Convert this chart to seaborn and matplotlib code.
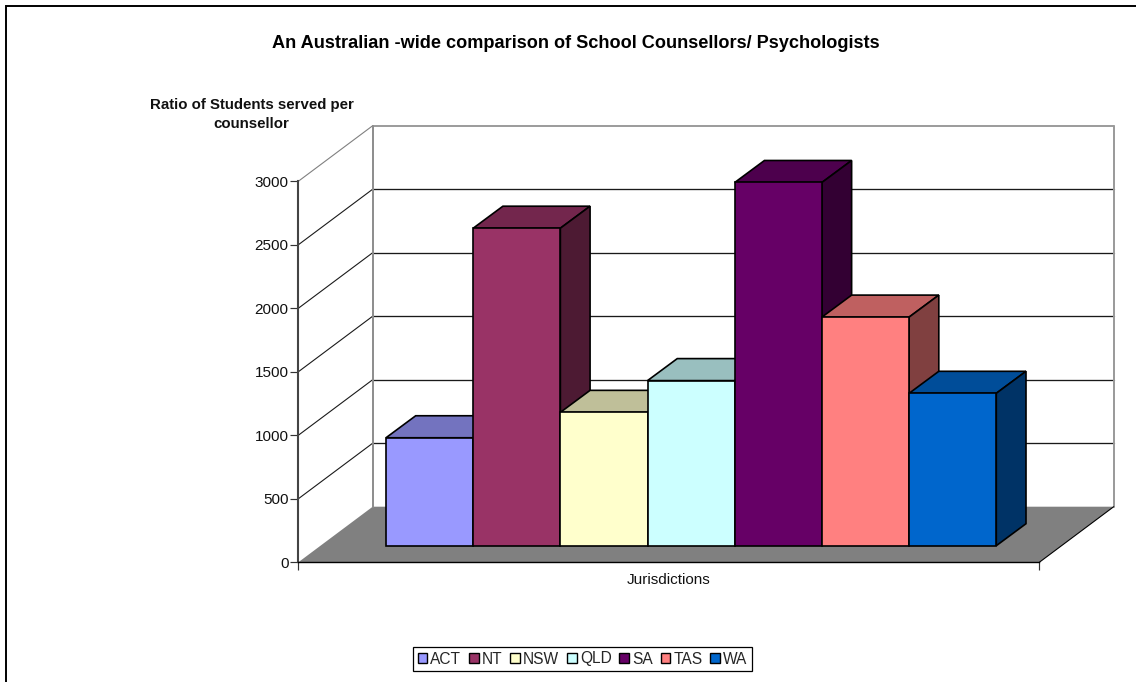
import numpy as np
import pandas as pd
import matplotlib
matplotlib.use("Agg")
import matplotlib.pyplot as plt
from matplotlib.patches import Polygon, Rectangle, Patch
import seaborn as sns

sns.set_theme(style="white")
plt.rcParams['font.family'] = ['Liberation Sans', 'DejaVu Sans']

states = ["ACT", "NT", "NSW", "QLD", "SA", "TAS", "WA"]
ratios = [850, 2500, 1050, 1300, 2860, 1800, 1200]
colours = ["#9999FF", "#993366", "#FFFFCC", "#CCFFFF", "#660066", "#FF8080", "#0066CC"]
y_ticks = [0, 500, 1000, 1500, 2000, 2500, 3000]

W, H = 1136, 682
fig = plt.figure(figsize=(W / 100, H / 100), dpi=100, facecolor="white")


def axes_px(left, right, top, bottom):
    return fig.add_axes([left / W, 1 - bottom / H, (right - left) / W, (bottom - top) / H])


# outer border runs off the right and bottom of the picture
fig.add_artist(Rectangle((6 / W, -0.02), 1.1, 1.02 - 6 / H, transform=fig.transFigure,
                         fill=False, edgecolor="black", linewidth=1.4))

# frame axes: the front edge of the 3d box, with the walls drawn back from it
frame = axes_px(298.3, 1039.3, 181.3, 562.3)
frame.patch.set_alpha(0)
frame.set_xlim(0, 1)
frame.set_ylim(0, 3000)
wall_dx = 74.4 / 741
wall_dy = 55.6 * 3000 / 381
grey = "#808080"

frame.add_patch(Polygon([(0, 0), (1, 0), (1 + wall_dx, wall_dy), (wall_dx, wall_dy)],
                        closed=True, facecolor=grey, edgecolor="none", clip_on=False, zorder=1))
for v in y_ticks[1:]:
    c = grey if v == 3000 else "#1a1a1a"
    frame.plot([0, wall_dx], [v, v + wall_dy], color=c, lw=0.8, clip_on=False, zorder=2)
    frame.plot([wall_dx, 1 + wall_dx], [v + wall_dy, v + wall_dy], color=c, lw=1.1 if v == 3000 else 0.95,
               clip_on=False, zorder=2)
frame.plot([wall_dx, wall_dx], [wall_dy, 3000 + wall_dy], color="#8c8c8c", lw=1.4, clip_on=False, zorder=2)
frame.plot([1 + wall_dx, 1 + wall_dx], [wall_dy, 3000 + wall_dy], color="#999999", lw=1.4, clip_on=False, zorder=2)
frame.plot([1, 1 + wall_dx], [0, wall_dy], color="black", lw=0.8, clip_on=False, zorder=3)

sns.despine(ax=frame, top=True, right=True)
frame.spines["left"].set_color("#444444")
frame.spines["left"].set_linewidth(1.5)
frame.spines["bottom"].set_color("black")
frame.spines["bottom"].set_linewidth(1.0)
frame.spines["bottom"].set_zorder(3)
frame.set_yticks(y_ticks)
frame.set_xticks([0, 1])
frame.set_xticklabels(["", ""])
frame.tick_params(axis="both", direction="out", length=5.5, width=0.85, color="#333333",
                  left=True, bottom=True, labelsize=11, labelcolor="#111111", pad=1.5)
frame.set_xlabel("Jurisdictions", fontsize=11, color="#111111", labelpad=1)

# bars sit part way along the floor in their own axes
bars = axes_px(386, 996.3, 164.7, 545.7)
bars.patch.set_alpha(0)
df = pd.DataFrame({"state": states, "ratio": ratios})
sns.barplot(data=df, x="state", y="ratio", hue="state", hue_order=states, palette=colours,
            dodge=False, width=1, saturation=1, edgecolor="black", linewidth=1.2, legend=False, ax=bars)
bars.set_xlim(-0.5, 6.5)
bars.set_ylim(0, 3000)
bars.set_axis_off()

depth_x = 29.7 / (610.3 / 7)
depth_y = 22 * 3000 / 381


def shade(colour, f):
    return tuple(np.array(matplotlib.colors.to_rgb(colour)) * f)


for i, (rect, col) in enumerate(zip(sorted(bars.patches, key=lambda p: p.get_x()), colours)):
    x0, w, h = rect.get_x(), rect.get_width(), rect.get_height()
    x1 = x0 + w
    rect.set_zorder(10 + 2 * i + 1)
    rect.set_clip_on(False)
    top = Polygon([(x0, h), (x1, h), (x1 + depth_x, h + depth_y), (x0 + depth_x, h + depth_y)], closed=True,
                  facecolor=shade(col, 0.75), edgecolor="black", linewidth=1.2, clip_on=False, zorder=10 + 2 * i)
    side = Polygon([(x1, 0), (x1 + depth_x, depth_y), (x1 + depth_x, h + depth_y), (x1, h)], closed=True,
                   facecolor=shade(col, 0.5), edgecolor="black", linewidth=1.2, clip_on=False, zorder=10 + 2 * i)
    bars.add_patch(top)
    bars.add_patch(side)

handles = [Patch(facecolor=c, edgecolor="black", linewidth=1.0, label=s) for s, c in zip(states, colours)]
leg = fig.legend(handles=handles, ncol=7, loc="center", bbox_to_anchor=(582.5 / W, 1 - 659 / H),
                 bbox_transform=fig.transFigure, fontsize=11.2, frameon=True, fancybox=False,
                 edgecolor="black", framealpha=1, handlelength=0.62, handleheight=0.62,
                 handletextpad=0.2, columnspacing=0.5, borderpad=0.3, borderaxespad=0)
leg.get_frame().set_linewidth(0.9)
leg.set_zorder(40)

fig.text(576 / W, 1 - 44 / H, "An Australian -wide comparison of School Counsellors/ Psychologists",
         ha="center", va="center", fontsize=13.1, fontweight="bold", color="black")
fig.text(251.5 / W, 1 - 114.5 / H, "Ratio of Students served per\ncounsellor", ha="center", va="center",
         fontsize=10.85, fontweight="bold", color="#111111", linespacing=1.45)

fig.savefig("out.png", dpi=100)
